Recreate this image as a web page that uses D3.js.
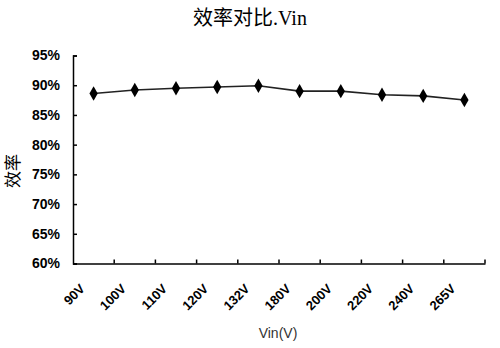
<!DOCTYPE html>
<html>
<head>
<meta charset="utf-8">
<script src="https://cdn.jsdelivr.net/npm/d3@7"></script>
<style>
body { margin: 0; background: #fff; }
</style>
</head>
<body>
<svg width="500" height="348"></svg>
<script>
var categories = ['90V', '100V', '110V', '120V', '132V', '180V', '200V', '220V', '240V', '265V'];
var efficiency = [88.6, 89.2, 89.5, 89.7, 89.9, 89.0, 89.0, 88.4, 88.2, 87.5];
var yTicks = [60, 65, 70, 75, 80, 85, 90, 95];

function init() {
    var svg = d3.select('svg');
    var left = 73, right = 485, top = 55.5, bottom = 263.5;

    var x = d3.scaleBand().domain(categories).range([left, right]);
    var y = d3.scaleLinear().domain([60, 95]).range([bottom, top]);

    // title
    svg.append('text')
        .attr('x', 250).attr('y', 25)
        .attr('text-anchor', 'middle')
        .attr('font-family', '"Liberation Serif", "Noto Sans CJK SC", serif')
        .attr('font-size', 20)
        .text('效率对比.Vin');

    // y axis
    var yAxis = svg.append('g')
        .attr('transform', 'translate(' + left + ',0)')
        .call(d3.axisRight(y).tickValues(yTicks).tickSize(4).tickFormat(function (d) { return d + '%'; }));
    yAxis.select('.domain').attr('stroke', '#000').attr('stroke-width', 1.5);
    yAxis.selectAll('.tick line').attr('stroke', '#000').attr('stroke-width', 1.5);
    yAxis.selectAll('.tick text')
        .attr('x', -13)
        .attr('text-anchor', 'end')
        .attr('font-family', '"Liberation Sans", Arial, sans-serif')
        .attr('font-weight', 'bold')
        .attr('font-size', 14)
        .attr('fill', '#000');

    // x axis
    var xAxis = svg.append('g')
        .attr('transform', 'translate(0,' + bottom + ')')
        .call(d3.axisTop(x).tickSize(0).tickFormat(''));
    xAxis.select('.domain').attr('stroke', '#000').attr('stroke-width', 1.5);
    xAxis.selectAll('.tick').remove();
    var edges = categories.map(function (c) { return x(c) + x.bandwidth(); });
    xAxis.selectAll('.xtick').data(edges).enter().append('line')
        .attr('class', 'xtick')
        .attr('x1', function (d) { return d; }).attr('x2', function (d) { return d; })
        .attr('y1', 0).attr('y2', -4)
        .attr('stroke', '#000').attr('stroke-width', 1.5);

    var labels = svg.selectAll('.xlabel').data(categories).enter().append('g')
        .attr('class', 'xlabel')
        .attr('transform', function (d) {
            return 'translate(' + (x(d) + x.bandwidth() / 2 - 8) + ',' + (bottom + 26) + ')';
        });
    labels.append('text')
        .attr('transform', 'rotate(-45)')
        .attr('text-anchor', 'end')
        .attr('font-family', '"Liberation Sans", Arial, sans-serif')
        .attr('font-weight', 'bold')
        .attr('font-size', 13)
        .text(function (d) { return d; });

    // axis titles
    svg.append('text')
        .attr('x', 278).attr('y', 338)
        .attr('text-anchor', 'middle')
        .attr('font-family', '"Liberation Sans", Arial, sans-serif')
        .attr('font-size', 14)
        .attr('fill', '#333')
        .text('Vin(V)');

    svg.append('text')
        .attr('transform', 'translate(11,' + 171 + ') rotate(-90)')
        .attr('text-anchor', 'middle')
        .attr('dominant-baseline', 'central')
        .attr('font-family', '"Noto Sans CJK SC", sans-serif')
        .attr('font-size', 17)
        .text('效率');

    // line
    var pts = categories.map(function (c, i) { return { c: c, v: efficiency[i] }; });
    var line = d3.line()
        .x(function (d) { return x(d.c) + x.bandwidth() / 2; })
        .y(function (d) { return y(d.v); });
    svg.append('path')
        .datum(pts)
        .attr('d', line)
        .attr('fill', 'none')
        .attr('stroke', '#222')
        .attr('stroke-width', 1.6);

    svg.selectAll('.marker').data(pts).enter().append('path')
        .attr('class', 'marker')
        .attr('d', d3.symbol().type(d3.symbolDiamond).size(60))
        .attr('transform', function (d) {
            return 'translate(' + (x(d.c) + x.bandwidth() / 2) + ',' + y(d.v) + ')';
        })
        .attr('fill', '#000');
}
init();
</script>
</body>
</html>
